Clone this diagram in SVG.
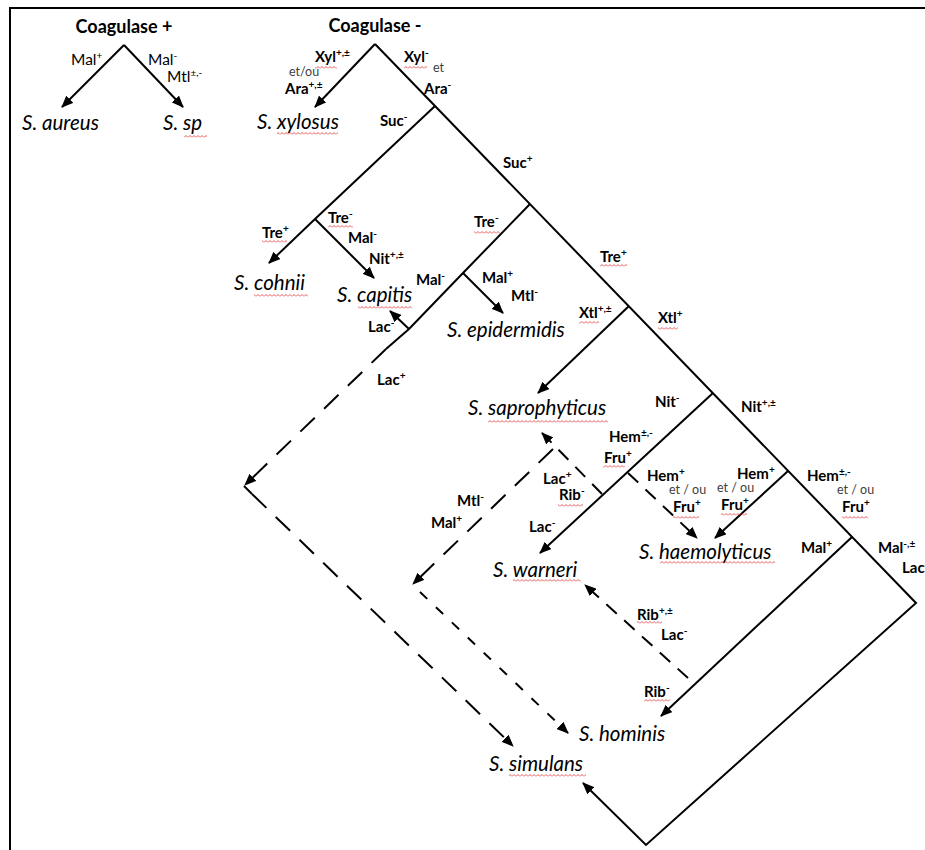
<svg xmlns="http://www.w3.org/2000/svg" width="925" height="850" viewBox="0 0 925 850">
<style>
.t{font-family:Lato,'Liberation Sans',sans-serif;fill:#000}
.h{font-weight:bold;font-size:18px;text-anchor:middle}
.sp{font-style:italic;font-size:20.5px}
.b{font-weight:bold;font-size:15px}
.n{font-size:15.5px}
.eo{font-size:12.5px;fill:#404040}
.sup{font-size:10px}
.ln{stroke:#000;stroke-width:2;fill:none}
.ds{stroke-dasharray:20 13}
.dm{stroke-dasharray:14 10}
.dss{stroke-dasharray:10 12}
.sq{fill:url(#wv)}
</style>
<defs>
<marker id="ah" viewBox="0 0 12 10" refX="11" refY="5" markerWidth="12" markerHeight="10" markerUnits="userSpaceOnUse" orient="auto"><path d="M0,0 L12,5 L0,10 z" fill="#000"/></marker>
<pattern id="wv" width="4" height="3" patternUnits="userSpaceOnUse"><path d="M0,2.5 L2,0.5 L4,2.5" fill="none" stroke="#e03030" stroke-width="0.8"/></pattern>
</defs>
<rect width="925" height="850" fill="#fff"/>
<path d="M10,850 L10,8 L925,8" fill="none" stroke="#000" stroke-width="2"/>

<g id="connectors">
<path class="ln" d="M124,45 L62,107" marker-end="url(#ah)"/>
<path class="ln" d="M124,45 L183,107" marker-end="url(#ah)"/>
<path class="ln" d="M375,44 L315,107" marker-end="url(#ah)"/>
<path class="ln" d="M375,44 L916,603 L646,845 L583,783" marker-end="url(#ah)"/>
<path class="ln" d="M435,106 L315,219 L269,263" marker-end="url(#ah)"/>
<path class="ln" d="M315,219 L374,278" marker-end="url(#ah)"/>
<path class="ln" d="M530,204 L463,273 L409,329 L386,349"/>
<path class="ln" d="M463,273 L503,313" marker-end="url(#ah)"/>
<path class="ln" d="M409,329 L390,311" marker-end="url(#ah)"/>
<path class="ln" d="M629,306 L538,393" marker-end="url(#ah)"/>
<path class="ln" d="M713,393 L540,553" marker-end="url(#ah)"/>
<path class="ln" d="M788,471 L715,538" marker-end="url(#ah)"/>
<path class="ln" d="M852,537 L661,716" marker-end="url(#ah)"/>
<path class="ln ds" d="M386,349 L245,485" marker-end="url(#ah)"/>
<path class="ln" d="M244,486 L252,494"/>
<path class="ln ds" d="M252,494 L513,746" marker-end="url(#ah)"/>
<path class="ln dm" d="M602,494 L542,433" marker-end="url(#ah)"/>
<path class="ln ds" d="M553,449 L413,584" marker-end="url(#ah)"/>
<path class="ln dss" d="M420,592 L568,733" marker-end="url(#ah)"/>
<path class="ln dm" d="M628,473 L697,538" marker-end="url(#ah)"/>
<path class="ln dm" d="M688,678 L585,585" marker-end="url(#ah)"/>
</g>

<g id="coag-pos">
<text class="t h" x="124" y="33">Coagulase +</text>
<text class="t n" x="71" y="65">Mal<tspan class="sup" dy="-6">+</tspan></text>
<text class="t n" x="148" y="65">Mal<tspan class="sup" dy="-6">-</tspan></text>
<text class="t n" x="167" y="82">Mtl<tspan class="sup" dy="-6">±,-</tspan></text>
</g>
<g id="s-aureus"><text class="t sp" x="22" y="130">S. aureus</text></g>
<g id="s-sp"><text class="t sp" x="163" y="130">S. sp</text><rect class="sq" x="184" y="135" width="23" height="3"/></g>

<g id="coag-neg">
<text class="t h" x="375" y="32">Coagulase -</text>
<text class="t b" x="315" y="62">Xyl<tspan class="sup" dy="-6">+,±</tspan></text>
<rect class="sq" x="315" y="66" width="22" height="3"/>
<text class="t eo" x="289" y="76">et/ou</text>
<text class="t b" x="285" y="94">Ara<tspan class="sup" dy="-6">+,±</tspan></text>
<text class="t b" x="404" y="62">Xyl<tspan class="sup" dy="-6">-</tspan></text>
<rect class="sq" x="404" y="66" width="23" height="3"/>
<text class="t eo" x="433" y="72">et</text>
<text class="t b" x="424" y="94">Ara<tspan class="sup" dy="-6">-</tspan></text>
<text class="t b" x="380" y="126">Suc<tspan class="sup" dy="-6">-</tspan></text>
<text class="t b" x="503" y="168">Suc<tspan class="sup" dy="-6">+</tspan></text>
</g>
<g id="s-xylosus"><text class="t sp" x="257" y="129">S. xylosus</text><rect class="sq" x="277" y="132" width="61" height="3"/></g>

<g id="suc-neg">
<text class="t b" x="262" y="238">Tre<tspan class="sup" dy="-6">+</tspan></text>
<rect class="sq" x="262" y="240" width="25" height="3"/>
<text class="t b" x="328" y="223">Tre<tspan class="sup" dy="-6">-</tspan></text>
<rect class="sq" x="328" y="225" width="25" height="3"/>
<text class="t b" x="348" y="243">Mal<tspan class="sup" dy="-6">-</tspan></text>
<text class="t b" x="369" y="264">Nit<tspan class="sup" dy="-6">+,±</tspan></text>
</g>
<g id="s-cohnii"><text class="t sp" x="234" y="290">S. cohnii</text><rect class="sq" x="254" y="294" width="54" height="3"/></g>
<g id="s-capitis"><text class="t sp" x="337" y="302">S. capitis</text><rect class="sq" x="358" y="306" width="54" height="3"/></g>

<g id="suc-pos">
<text class="t b" x="474" y="227">Tre<tspan class="sup" dy="-6">-</tspan></text>
<rect class="sq" x="474" y="231" width="26" height="3"/>
<text class="t b" x="416" y="285">Mal<tspan class="sup" dy="-6">-</tspan></text>
<text class="t b" x="482" y="283">Mal<tspan class="sup" dy="-6">+</tspan></text>
<text class="t b" x="511" y="301">Mtl<tspan class="sup" dy="-6">-</tspan></text>
<text class="t b" x="368" y="332">Lac<tspan class="sup" dy="-6">-</tspan></text>
<text class="t b" x="377" y="385">Lac<tspan class="sup" dy="-6">+</tspan></text>
<text class="t b" x="600" y="262">Tre<tspan class="sup" dy="-6">+</tspan></text>
<rect class="sq" x="600" y="264" width="27" height="3"/>
<text class="t b" x="579" y="318">Xtl<tspan class="sup" dy="-6">+,±</tspan></text>
<rect class="sq" x="579" y="321" width="20" height="3"/>
<text class="t b" x="658" y="323">Xtl<tspan class="sup" dy="-6">+</tspan></text>
<rect class="sq" x="658" y="327" width="20" height="3"/>
</g>
<g id="s-epidermidis"><text class="t sp" x="447" y="337">S. epidermidis</text></g>
<g id="s-saprophyticus"><text class="t sp" x="468" y="415">S. saprophyticus</text><rect class="sq" x="488" y="420" width="120" height="3"/></g>

<g id="xtl-pos">
<text class="t b" x="655" y="407">Nit<tspan class="sup" dy="-6">-</tspan></text>
<text class="t b" x="741" y="412">Nit<tspan class="sup" dy="-6">+,±</tspan></text>
<text class="t b" x="609" y="442">Hem<tspan class="sup" dy="-6">±,-</tspan></text>
<text class="t b" x="604" y="463">Fru<tspan class="sup" dy="-6">+</tspan></text>
<rect class="sq" x="603" y="465" width="22" height="3"/>
<text class="t b" x="543" y="484">Lac<tspan class="sup" dy="-6">+</tspan></text>
<text class="t b" x="559" y="500">Rib<tspan class="sup" dy="-6">-</tspan></text>
<rect class="sq" x="558" y="504" width="25" height="3"/>
<text class="t b" x="457" y="506">Mtl<tspan class="sup" dy="-6">-</tspan></text>
<text class="t b" x="431" y="528">Mal<tspan class="sup" dy="-6">+</tspan></text>
<text class="t b" x="529" y="532">Lac<tspan class="sup" dy="-6">-</tspan></text>
<text class="t b" x="647" y="481">Hem<tspan class="sup" dy="-6">+</tspan></text>
<text class="t eo" x="669" y="494">et / ou</text>
<text class="t b" x="673" y="512">Fru<tspan class="sup" dy="-6">+</tspan></text>
<rect class="sq" x="673" y="516" width="26" height="3"/>
<text class="t b" x="737" y="479">Hem<tspan class="sup" dy="-6">+</tspan></text>
<text class="t eo" x="717" y="492">et / ou</text>
<text class="t b" x="721" y="510">Fru<tspan class="sup" dy="-6">+</tspan></text>
<rect class="sq" x="721" y="513" width="26" height="3"/>
<text class="t b" x="807" y="481">Hem<tspan class="sup" dy="-6">±,-</tspan></text>
<text class="t eo" x="837" y="494">et / ou</text>
<text class="t b" x="842" y="512">Fru<tspan class="sup" dy="-6">+</tspan></text>
<rect class="sq" x="842" y="516" width="26" height="3"/>
<text class="t b" x="801" y="553">Mal<tspan class="sup" dy="-6">+</tspan></text>
<text class="t b" x="878" y="553">Mal<tspan class="sup" dy="-6">-,±</tspan></text>
<text class="t b" x="902" y="573">Lac<tspan class="sup" dy="-6">-</tspan></text>
<text class="t b" x="637" y="620">Rib<tspan class="sup" dy="-6">+,±</tspan></text>
<rect class="sq" x="637" y="621" width="25" height="3"/>
<text class="t b" x="661" y="640">Lac<tspan class="sup" dy="-6">-</tspan></text>
<text class="t b" x="644" y="697">Rib<tspan class="sup" dy="-6">-</tspan></text>
<rect class="sq" x="644" y="699" width="26" height="3"/>
</g>
<g id="s-haemolyticus"><text class="t sp" x="639" y="559">S. haemolyticus</text><rect class="sq" x="660" y="561" width="115" height="3"/></g>
<g id="s-warneri"><text class="t sp" x="493" y="577">S. warneri</text><rect class="sq" x="513" y="579" width="68" height="3"/></g>
<g id="s-hominis"><text class="t sp" x="579" y="741">S. hominis</text></g>
<g id="s-simulans"><text class="t sp" x="489" y="771">S. simulans</text><rect class="sq" x="509" y="774" width="77" height="3"/></g>
</svg>
